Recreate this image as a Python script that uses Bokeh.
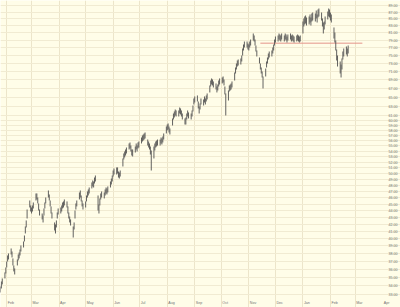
import pandas as pd
from bokeh.plotting import figure
from bokeh.models import Range1d, Grid, FixedTicker, ColumnDataSource
from bokeh.core.properties import value
from bokeh.embed import file_html
from bokeh.resources import INLINE

# daily highs / lows, one week per line (Mon..Fri), starting Mon 2006-01-23
highs = [
    34.51, 34.16, 33.92, 34.51, 34.87,
    35.60, 36.21, 36.96, 37.73, 37.99,
    38.65, 38.25, 37.35, 36.46, 36.09,
    37.22, 37.86, 38.12, 38.51, 39.05,
    39.59, 40.41, 41.68, 42.55, 44.18,
    45.57, 44.80, 44.49, 44.80, 45.26,
    46.68, 46.68, 46.04, 45.11, 44.18,
    43.58, 43.28, 44.34, 45.26, 46.04,
    47.16, 46.52, 45.57, 44.65, 43.73,
    42.26, 41.97, 42.55, 43.73, 44.34,
    44.49, 44.80, 45.26, 45.42, 45.73,
    45.42, 44.65, 43.73, 43.13, 42.70,
    41.68, 42.26, 44.03, 45.11, 45.57,
    46.84, 47.16, 46.36, 45.57, 45.11,
    45.42, 46.36, 47.00, 47.33, 47.65,
    48.48, 48.81, 48.64, 49.31, 49.65,
    46.36, 44.95, 45.89, 46.68, 47.00,
    46.84, 47.33, 47.65, 47.49, 47.82,
    48.64, 49.14, 49.65, 50.51, 50.86,
    51.04, 51.04, 50.34, 50.17, 50.51,
    52.64, 53.55, 53.92, 54.29, 54.66,
    55.42, 55.61, 55.04, 54.29, 54.29,
    54.85, 55.42, 55.04, 55.61, 55.80,
    56.57, 56.96, 57.16, 57.36, 57.55,
    56.18, 55.80, 55.42, 54.85, 54.10,
    54.85, 55.42, 55.80, 55.99, 56.18,
    56.18, 56.57, 56.38, 56.77, 57.36,
    58.75, 59.15, 59.36, 58.75, 58.35,
    60.39, 61.43, 61.86, 62.28, 62.07,
    62.07, 62.71, 62.50, 62.07, 61.43,
    60.39, 60.59, 61.43, 62.07, 61.65,
    61.43, 62.07, 63.14, 64.68, 65.13,
    65.35, 64.01, 62.93, 63.58, 64.68,
    64.46, 65.13, 64.68, 65.35, 65.80,
    67.63, 68.80, 69.28, 69.04, 68.57,
    68.10, 67.40, 67.86, 68.80, 69.28,
    69.51, 69.75, 69.04, 67.40, 65.80,
    66.48, 67.63, 67.86, 68.10, 68.57,
    70.72, 71.94, 72.93, 73.69, 73.94,
    74.20, 74.96, 76.79, 77.85, 78.65,
    78.65, 78.12, 77.85, 78.65, 79.19,
    80.85, 80.29, 79.19, 77.58, 76.26,
    74.45, 72.93, 71.94, 70.96, 69.75,
    71.69, 73.44, 74.45, 75.48, 76.00,
    76.26, 77.05, 77.85, 79.19, 80.01,
    80.29, 80.85, 80.57, 80.29, 80.85,
    80.29, 80.85, 80.57, 80.01, 80.57,
    80.85, 80.29, 80.57, 80.29, 80.01,
    80.29, 80.57, 80.29, 80.01, 80.29,
    84.24, 85.12, 85.71, 86.00, 85.41,
    85.71, 86.30, 85.41, 86.59, 86.89,
    86.59, 87.48, 86.30, 87.78, 88.09,
    86.89, 85.12, 83.95, 84.24, 85.71,
    87.18, 88.09, 87.78, 86.89, 86.30,
    82.53, 81.12, 78.92, 76.52, 74.96,
    73.44, 72.68, 74.20, 76.00, 76.79,
    77.32, 76.79, 77.58,
]
lows = [
    33.81, 33.46, 33.23, 33.69, 34.16,
    34.87, 35.47, 36.21, 36.96, 37.22,
    37.86, 37.47, 36.46, 35.72, 35.35,
    36.46, 37.09, 37.35, 37.73, 38.25,
    38.78, 39.59, 40.69, 41.54, 42.84,
    44.49, 43.88, 43.58, 43.88, 44.34,
    45.57, 45.73, 45.11, 44.03, 43.28,
    42.70, 42.26, 43.28, 44.34, 45.11,
    46.04, 45.57, 44.65, 43.58, 42.84,
    41.11, 40.69, 41.54, 42.84, 43.43,
    43.58, 43.88, 44.34, 44.49, 44.80,
    44.49, 43.58, 42.84, 42.26, 41.82,
    40.13, 41.25, 42.84, 44.18, 44.65,
    45.73, 46.04, 45.42, 44.65, 44.18,
    44.49, 45.42, 46.04, 46.36, 46.68,
    47.49, 47.82, 47.65, 48.31, 48.64,
    44.03, 43.58, 44.80, 45.73, 46.04,
    45.89, 46.36, 46.68, 46.52, 46.84,
    47.65, 48.14, 48.64, 49.48, 49.82,
    49.82, 50.00, 49.31, 49.14, 49.48,
    51.21, 52.46, 52.82, 53.18, 53.55,
    54.29, 54.48, 53.92, 53.18, 53.00,
    53.73, 54.29, 53.92, 54.48, 54.66,
    55.42, 55.80, 55.99, 56.18, 56.38,
    55.04, 54.66, 54.29, 53.36, 50.51,
    52.64, 54.10, 54.66, 54.85, 55.04,
    55.04, 55.42, 55.23, 55.61, 56.18,
    57.36, 57.95, 58.15, 57.55, 57.16,
    58.95, 60.18, 60.59, 61.01, 60.80,
    60.80, 61.43, 61.22, 60.80, 60.18,
    59.15, 59.15, 60.18, 60.80, 60.39,
    60.18, 60.80, 61.86, 63.36, 63.79,
    64.01, 62.50, 61.43, 62.28, 63.36,
    63.14, 63.79, 63.36, 64.01, 64.46,
    66.03, 67.40, 67.86, 67.63, 67.17,
    66.71, 66.03, 66.48, 67.40, 67.86,
    68.10, 68.33, 67.63, 65.58, 61.01,
    64.23, 66.25, 66.48, 66.71, 67.17,
    68.80, 70.47, 71.45, 72.18, 72.43,
    72.68, 73.44, 74.96, 76.26, 77.05,
    77.05, 76.52, 76.26, 77.05, 77.58,
    78.92, 78.65, 77.58, 76.00, 74.71,
    72.93, 71.45, 70.47, 69.51, 66.94,
    69.75, 71.94, 72.93, 73.94, 74.45,
    74.71, 75.48, 76.26, 77.58, 78.38,
    78.65, 79.19, 78.92, 78.65, 79.19,
    78.65, 79.19, 78.92, 78.38, 78.92,
    79.19, 78.65, 78.92, 78.65, 78.38,
    78.65, 78.92, 78.65, 78.38, 78.65,
    80.85, 82.81, 83.38, 83.67, 83.09,
    83.38, 83.95, 83.09, 84.24, 84.53,
    84.24, 85.12, 83.95, 85.41, 85.71,
    84.53, 82.81, 80.85, 81.96, 83.38,
    84.83, 85.71, 85.41, 84.53, 83.95,
    79.46, 78.38, 76.26, 73.69, 72.18,
    70.47, 69.51, 71.45, 73.94, 74.71,
    75.22, 74.71, 75.48,
]
first_day = "2006-01-23"

month_labels = ["Feb", "Mar", "Apr", "May", "Jun", "Jul", "Aug", "Sep",
                "Oct", "Nov", "Dec", "Jan", "Feb", "Mar", "Apr"]
first_month = "2006-02-01"

price_ticks = list(range(33, 62)) + list(range(63, 90, 2))
price_labels = ["%.2f" % v for v in price_ticks]

ref_level = 78.2
ref_from = "2006-11-14"
ref_to = "2007-03-09"

# ---------------------------------------------------------------
dates = pd.bdate_range(first_day, periods=len(highs))
months = pd.date_range(first_month, periods=len(month_labels), freq="MS")

x_start = pd.Timestamp("2006-01-25")
x_end = pd.Timestamp("2007-04-21")
y_lo, y_hi = 31.56, 90.54

BG = "#FFFDE8"
p = figure(width=400, height=307, x_axis_type="datetime", y_axis_type="log",
           x_range=Range1d(x_start, x_end), y_range=Range1d(y_lo, y_hi),
           x_axis_location=None, y_axis_location=None,
           toolbar_location=None, output_backend="svg", min_border=0,
           background_fill_color=BG, border_fill_color=BG,
           outline_line_color=None)
p.grid.visible = False

month_ms = [t.value / 1e6 for t in months[:14]]
p.add_layout(Grid(dimension=0, ticker=FixedTicker(ticks=month_ms),
                  grid_line_color="#ECE5CA", grid_line_width=1))
p.add_layout(Grid(dimension=1, ticker=FixedTicker(ticks=price_ticks),
                  grid_line_color="#F1EBD2", grid_line_width=1))

# reference line
p.line(x=[pd.Timestamp(ref_from), pd.Timestamp(ref_to)], y=[ref_level, ref_level],
       line_color="#E4948A", line_width=1)

# price bars
src = ColumnDataSource(dict(x=dates, hi=highs, lo=lows))
p.segment(x0="x", y0="lo", x1="x", y1="hi", source=src,
          line_color="#505050", line_width=0.9)

# price labels on the right
span = x_end - x_start
lab_x = x_start + span * (397 / 400)
p.text(x=[lab_x] * len(price_ticks), y=price_ticks, text=price_labels,
       text_font=value("Liberation Sans"), text_font_size="3.6px",
       text_color="#707070", text_align="right", text_baseline="middle")

# month labels at the bottom
lab_y = 32.1
p.text(x=list(months), y=[lab_y] * len(months), text=month_labels,
       x_offset=1,
       text_font=value("Liberation Sans"), text_font_size="3.6px",
       text_color="#707070", text_align="left", text_baseline="middle")

open("out.html", "w").write(file_html(p, INLINE))
